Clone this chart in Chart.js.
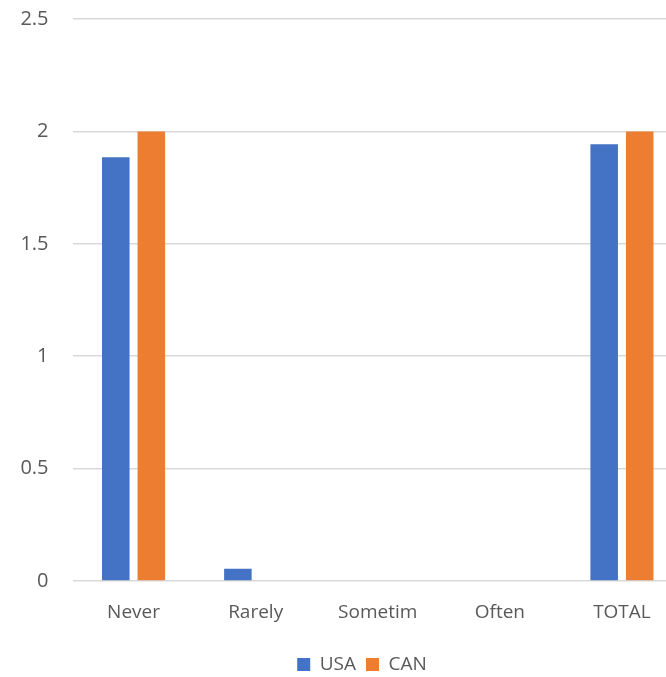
<!DOCTYPE html>
<html>
<head>
<meta charset="utf-8">
<script src="https://cdn.jsdelivr.net/npm/chart.js@4"></script>
<style>
  html, body { margin: 0; padding: 0; background: #fff; overflow: hidden; }
  #wrap { width: 666px; height: 677px; overflow: hidden; }
</style>
</head>
<body>
<div id="wrap"><canvas id="c" width="724" height="677"></canvas></div>
<script>
const categories = ['Never', 'Rarely', 'Sometim', 'Often', 'TOTAL'];
const usaValues = [1.885, 0.055, 0, 0, 1.943];
const canValues = [2, 0, 0, 0, 2];
const yTicks = [0, 0.5, 1, 1.5, 2, 2.5];

const textColor = '#595959';
const fontFamily = "'Open Sans', 'Liberation Sans', sans-serif";

new Chart(document.getElementById('c'), {
  type: 'bar',
  data: {
    labels: categories,
    datasets: [
      { label: 'USA', data: usaValues, backgroundColor: '#4472C4' },
      { label: 'CAN', data: canValues, backgroundColor: '#ED7D31' }
    ]
  },
  options: {
    responsive: false,
    animation: false,
    devicePixelRatio: 1,
    categoryPercentage: 0.582,
    barPercentage: 0.775,
    layout: { padding: { top: 19, right: 0, left: 0, bottom: -7 } },
    plugins: {
      tooltip: { enabled: false },
      legend: {
        position: 'bottom',
        labels: {
          boxWidth: 13, boxHeight: 13, padding: 10,
          color: textColor,
          font: { family: fontFamily, size: 19 }
        }
      }
    },
    scales: {
      x: {
        grid: { display: false, drawTicks: false },
        border: { display: false },
        afterFit: s => { s.height = 64; },
        ticks: { color: textColor, padding: 20, font: { family: fontFamily, size: 19 } }
      },
      y: {
        min: 0, max: 2.5,
        afterBuildTicks: s => { s.ticks = yTicks.map(v => ({ value: v })); },
        afterFit: s => { s.width = 72.5; },
        grid: { color: '#d9d9d9', lineWidth: 1.5, drawTicks: true, tickLength: 24, tickColor: 'rgba(0,0,0,0)' },
        border: { display: false },
        ticks: {
          color: textColor, padding: 0,
          font: { family: fontFamily, size: 20 },
          callback: v => String(v)
        }
      },
      // empty strip on the right of the plot
      yRight: {
        position: 'right',
        afterFit: s => { s.width = 41; },
        grid: { display: false, drawTicks: false },
        border: { display: false },
        ticks: { display: false, padding: 0 }
      }
    }
  }
});
</script>
</body>
</html>
